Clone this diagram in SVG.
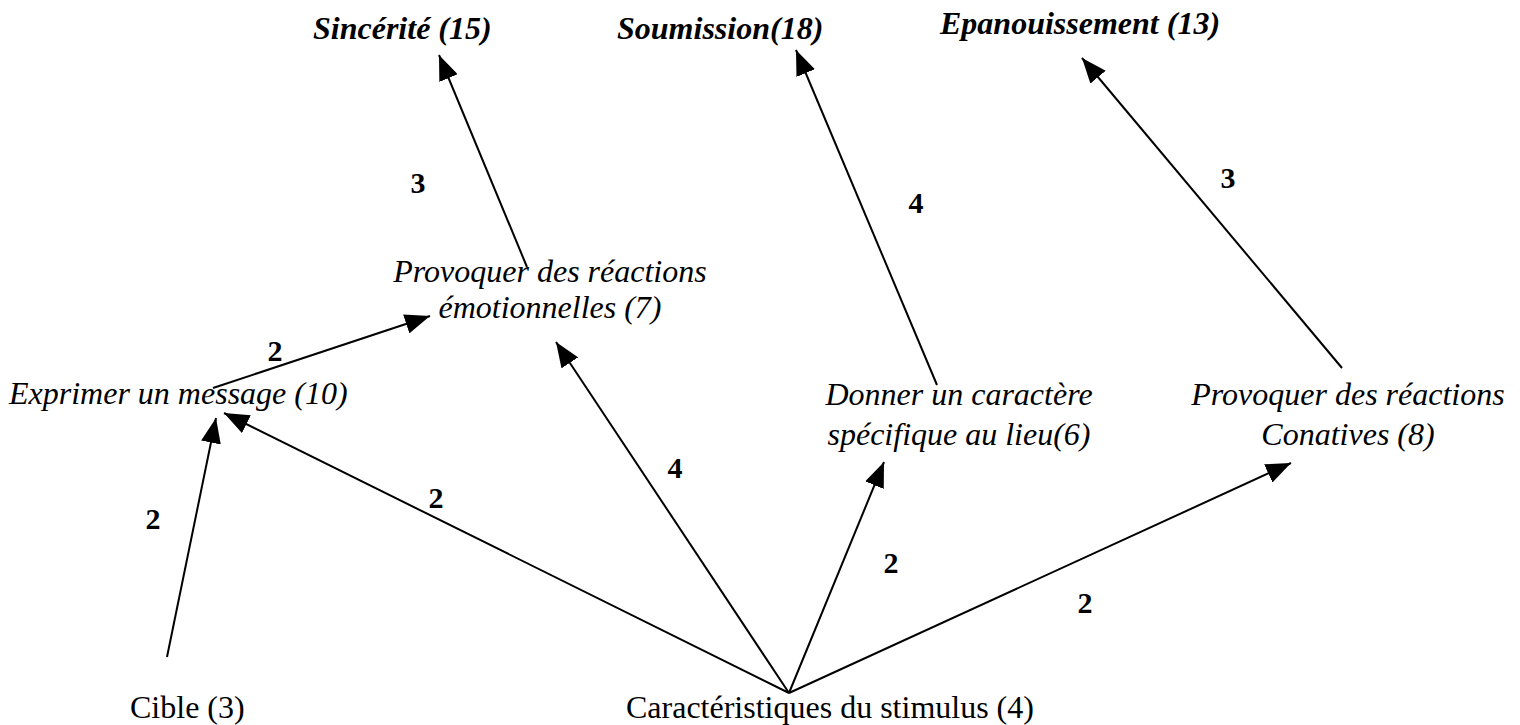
<svg xmlns="http://www.w3.org/2000/svg" width="1520" height="725" viewBox="0 0 1520 725">
<style>
text{font-family:"Liberation Serif","Times New Roman",serif;font-size:32px;fill:#000}
.it{font-style:italic}
.bi{font-style:italic;font-weight:bold}
.num{font-weight:bold;font-size:30px;text-anchor:middle}
.mid{text-anchor:middle}
.c line{stroke:#000;stroke-width:2;marker-end:url(#ah)}
</style>
<defs>
<marker id="ah" markerUnits="userSpaceOnUse" markerWidth="27" markerHeight="20" refX="25" refY="10" orient="auto">
<path d="M0,0 L25,10 L0,20 z" fill="#000"/>
</marker>
</defs>
<rect width="1520" height="725" fill="#fff"/>
<g class="c" id="connectors">
<line x1="167" y1="657" x2="216" y2="418"/>
<line x1="789" y1="693" x2="224" y2="413"/>
<line x1="213" y1="388" x2="430" y2="316"/>
<line x1="789" y1="693" x2="556" y2="342"/>
<line x1="527" y1="267" x2="439" y2="55"/>
<line x1="789" y1="693" x2="884" y2="462"/>
<line x1="937" y1="385" x2="796" y2="50"/>
<line x1="789" y1="693" x2="1291" y2="463"/>
<line x1="1342" y1="368" x2="1082" y2="58"/>
</g>
<g id="labels">
<text class="num" x="153" y="529">2</text>
<text class="num" x="436" y="508">2</text>
<text class="num" x="275" y="361">2</text>
<text class="num" x="675" y="478">4</text>
<text class="num" x="418" y="193">3</text>
<text class="num" x="891" y="573">2</text>
<text class="num" x="916" y="213">4</text>
<text class="num" x="1085" y="613">2</text>
<text class="num" x="1228" y="188">3</text>
</g>
<g id="sincerite"><text class="bi" x="313" y="39">Sincérité (15)</text></g>
<g id="soumission"><text class="bi" x="617" y="39">Soumission(18)</text></g>
<g id="epanouissement"><text class="bi" x="940" y="34">Epanouissement (13)</text></g>
<g id="emotionnelles"><text class="it mid" x="550" y="282">Provoquer des réactions</text><text class="it mid" x="550" y="318">émotionnelles (7)</text></g>
<g id="exprimer"><text class="it" x="9" y="404">Exprimer un message (10)</text></g>
<g id="donner"><text class="it mid" x="959" y="405">Donner un caractère</text><text class="it mid" x="959" y="445">spécifique au lieu(6)</text></g>
<g id="conatives"><text class="it mid" x="1348" y="405">Provoquer des réactions</text><text class="it mid" x="1348" y="445">Conatives (8)</text></g>
<g id="cible"><text x="130" y="718">Cible (3)</text></g>
<g id="stimulus"><text x="626" y="718">Caractéristiques du stimulus (4)</text></g>
</svg>
